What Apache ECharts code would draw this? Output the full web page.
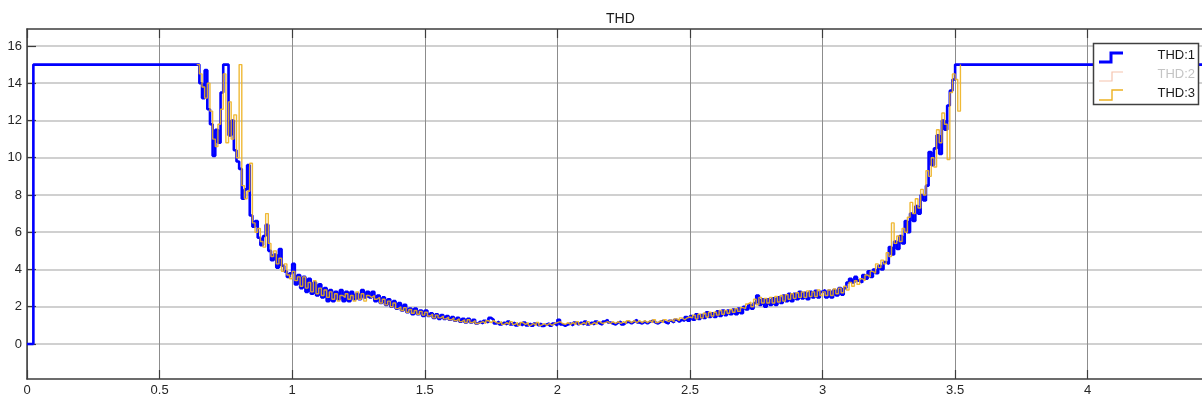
<!DOCTYPE html>
<html>
<head>
<meta charset="utf-8">
<script src="https://cdn.jsdelivr.net/npm/echarts@6/dist/echarts.min.js"></script>
<style>
html,body{margin:0;padding:0;background:#fff;}
#chart{width:1202px;height:401px;}
</style>
</head>
<body>
<div id="chart"></div>
<script>
// ---- data ----
const seriesNames = ['THD:1', 'THD:2', 'THD:3'];
const xTicks = [0, 0.5, 1, 1.5, 2, 2.5, 3, 3.5, 4];
const yTicks = [0, 2, 4, 6, 8, 10, 12, 14, 16];
const xMin = 0, xMax = 4.431, yMin = -1.88, yMax = 16.91;
// start-up: value 0 until the jump, then saturated at 15
const startPoints = [[0, 0], [0.024, 15]];
const endTime = 4.431;
const endValue = 15;
// sampled section: t = 0.64 ... 3.52, sample period 0.01 s
const sampleStart = 0.64;
const samplePeriod = 0.01;
const thd1 = [
  15,14.0,13.2,14.7,12.6,11.8,
  10.1,11.5,10.8,13.5,15,15,11.2,12.0,10.4,9.8,
  9.4,7.8,8.3,9.6,6.9,6.3,6.6,5.7,5.3,5.8,
  6.4,5.0,4.5,4.8,4.1,5.1,4.2,3.9,3.6,3.8,
  4.3,3.2,3.7,3.0,3.6,2.8,3.5,2.7,3.3,2.6,
  3.2,2.5,3.0,2.3,2.9,2.3,2.8,2.4,2.9,2.3,
  2.8,2.3,2.8,2.4,2.7,2.4,2.9,2.5,2.8,2.5,
  2.8,2.3,2.6,2.2,2.5,2.1,2.4,2.0,2.3,1.9,
  2.2,1.8,2.1,1.7,1.9,1.6,1.9,1.6,1.8,1.5,
  1.8,1.5,1.65,1.4,1.6,1.35,1.55,1.35,1.5,1.3,
  1.45,1.25,1.4,1.2,1.35,1.15,1.35,1.15,1.3,1.1,
  1.2,1.1,1.25,1.15,1.4,1.3,1.1,1.2,1.05,1.15,
  1.05,1.2,1.05,1.15,1.0,1.1,1.0,1.15,1.0,1.1,
  0.98,1.1,1.0,1.1,0.97,1.05,1.1,0.98,1.1,1.0,
  1.3,1.05,0.98,1.05,1.1,1.0,1.15,1.05,1.15,1.05,
  1.2,1.05,1.15,1.05,1.2,1.1,1.05,1.2,1.3,1.15,
  1.1,1.05,1.15,1.2,1.05,1.15,1.2,1.1,1.2,1.3,
  1.15,1.1,1.2,1.1,1.2,1.25,1.15,1.1,1.2,1.25,
  1.15,1.1,1.25,1.15,1.3,1.2,1.3,1.25,1.45,1.25,
  1.5,1.3,1.6,1.35,1.55,1.4,1.7,1.45,1.65,1.45,
  1.75,1.5,1.8,1.55,1.8,1.6,1.85,1.6,1.9,1.65,
  2.0,1.85,2.1,1.9,2.2,2.6,2.1,2.4,2.0,2.4,
  2.1,2.45,2.1,2.5,2.2,2.6,2.3,2.7,2.3,2.7,
  2.4,2.8,2.45,2.75,2.4,2.8,2.5,2.85,2.5,2.8,
  2.9,2.5,2.85,2.5,2.9,2.6,3.0,2.65,3.0,3.3,
  3.5,3.3,3.6,3.4,3.3,3.7,3.5,3.9,3.6,4.0,
  3.8,4.2,4.0,4.4,4.3,5.2,4.8,5.5,5.1,5.8,
  5.4,6.6,6.0,7.0,6.6,7.4,7.0,8.0,7.7,8.5,
  10.3,9.6,10.5,11.2,10.2,12.0,11.5,12.8,13.6,14.2,
  15,15,15
];
// THD:2 is drawn underneath THD:1 and is hidden by it; same readings used
const thd2 = thd1;
const thd3 = [
  15,14.5,13.8,13.2,14.0,12.5,
  11.0,10.6,11.8,12.6,14.5,10.8,13.0,11.0,12.3,10.0,
  15.0,8.5,7.8,8.2,9.7,6.5,6.0,6.2,5.5,5.2,
  7.0,5.4,4.7,5.0,4.3,4.6,3.9,4.3,3.7,3.5,
  3.9,3.4,3.6,3.1,3.6,3.0,3.3,2.8,3.4,2.7,
  3.0,2.6,2.9,2.5,2.8,2.4,2.7,2.3,2.6,2.5,
  2.7,2.4,2.6,2.3,2.8,2.4,2.7,2.3,2.6,2.5,
  2.6,2.4,2.5,2.2,2.4,2.1,2.3,2.0,2.2,1.9,
  2.0,1.8,1.95,1.7,1.85,1.65,1.8,1.6,1.75,1.55,
  1.7,1.5,1.6,1.4,1.55,1.4,1.5,1.35,1.45,1.3,
  1.4,1.25,1.35,1.2,1.3,1.15,1.3,1.15,1.25,1.1,
  1.15,1.2,1.1,1.25,1.15,1.25,1.15,1.1,1.2,1.05,
  1.15,1.05,1.2,1.05,1.15,1.0,1.15,1.05,1.15,1.0,
  1.1,1.0,1.15,1.0,1.1,1.0,1.1,1.0,1.1,1.15,
  1.2,1.1,1.05,1.15,1.05,1.15,1.05,1.2,1.05,1.15,
  1.05,1.2,1.05,1.15,1.05,1.2,1.1,1.15,1.2,1.1,
  1.2,1.1,1.2,1.1,1.2,1.1,1.25,1.15,1.25,1.15,
  1.25,1.15,1.25,1.15,1.25,1.15,1.3,1.15,1.25,1.15,
  1.3,1.2,1.3,1.2,1.35,1.25,1.4,1.3,1.4,1.45,
  1.4,1.55,1.35,1.6,1.4,1.65,1.45,1.7,1.5,1.7,
  1.55,1.8,1.6,1.8,1.65,1.85,1.7,1.9,1.75,1.95,
  1.9,2.15,2.25,2.0,2.4,2.1,2.5,2.2,2.45,2.2,
  2.5,2.2,2.55,2.25,2.6,2.3,2.65,2.4,2.7,2.45,
  2.75,2.5,2.8,2.5,2.85,2.55,2.8,2.55,2.9,2.6,
  2.8,2.6,2.9,2.6,2.95,2.7,3.0,2.75,3.1,2.9,
  3.3,3.1,3.4,3.2,3.5,3.4,3.7,3.6,3.9,3.8,
  4.3,4.1,4.5,4.3,4.9,4.7,6.5,5.4,5.8,5.5,
  6.2,6.0,6.8,7.6,7.0,7.8,7.3,8.3,8.0,9.3,
  9.0,10.0,9.5,11.5,10.8,12.4,11.8,9.9,13.5,14.5,
  14.2,12.5,15
];

// ---- build [t, value] pairs ----
function sampled(values) {
  return values.map((v, i) => [+(sampleStart + i * samplePeriod).toFixed(4), v]);
}
const data1 = startPoints.concat(sampled(thd1), [[endTime, endValue]]);
const data2 = startPoints.concat(sampled(thd2), [[endTime, endValue]]);
const data3 = sampled(thd3);

const colors = ['#0000ff', '#f5c3ae', '#edb120'];
const axisColor = '#3c3c3c';
const fontFam = 'Liberation Sans, Arial, sans-serif';
const labelStyle = { color: '#262626', fontSize: 13, fontFamily: fontFam };

const chart = echarts.init(document.getElementById('chart'), null, { renderer: 'canvas' });
chart.setOption({
  animation: false,
  backgroundColor: '#ffffff',
  title: {
    text: 'THD', left: 601, top: 7,
    textStyle: { fontSize: 14, fontWeight: 'normal', color: '#1a1a1a', fontFamily: fontFam }
  },
  grid: { left: 27, right: -1, top: 29, bottom: 22, containLabel: false },
  xAxis: [{
    type: 'value', min: xMin, max: xMax, position: 'bottom',
    axisLine: { show: true, onZero: false, lineStyle: { color: axisColor, width: 1.5 } },
    axisTick: { show: true, inside: true, length: 9, customValues: xTicks, lineStyle: { color: axisColor, width: 1.2 } },
    axisLabel: { customValues: xTicks, margin: 5, formatter: v => String(v), ...labelStyle },
    splitLine: { show: true, lineStyle: { color: '#8c8c8c', width: 1 } }
  }, {
    type: 'value', min: xMin, max: xMax, position: 'top',
    axisLine: { show: true, onZero: false, lineStyle: { color: axisColor, width: 1.5 } },
    axisTick: { show: true, inside: true, length: 9, customValues: xTicks, lineStyle: { color: axisColor, width: 1.2 } },
    axisLabel: { show: false },
    splitLine: { show: false }
  }],
  yAxis: [{
    type: 'value', min: yMin, max: yMax, position: 'left',
    axisLine: { show: true, onZero: false, lineStyle: { color: axisColor, width: 1.5 } },
    axisTick: { show: true, inside: true, length: 9, customValues: yTicks, lineStyle: { color: axisColor, width: 1.2 } },
    axisLabel: { customValues: yTicks, margin: 5, ...labelStyle },
    splitLine: { show: true, lineStyle: { color: '#c0c0c0', width: 1.5 } }
  }],
  series: [
    { name: seriesNames[1], type: 'line', step: 'end', showSymbol: false, data: data2,
      lineStyle: { color: colors[1], width: 1.5 }, itemStyle: { color: colors[1] }, z: 2 },
    { name: seriesNames[0], type: 'line', step: 'end', showSymbol: false, data: data1,
      lineStyle: { color: colors[0], width: 2.6 }, itemStyle: { color: colors[0] }, z: 3 },
    { name: seriesNames[2], type: 'line', step: 'end', showSymbol: false, data: data3,
      lineStyle: { color: colors[2], width: 1.4, opacity: 0.9 }, itemStyle: { color: colors[2] }, z: 4 }
  ],
  graphic: [
    { type: 'rect', z: 100, zlevel: 0, shape: { x: 1093.5, y: 43.5, width: 105, height: 61 },
      style: { fill: '#ffffff', stroke: '#404040', lineWidth: 1.5 } },
    { type: 'polyline', z: 101, shape: { points: [[1099, 62], [1111, 62], [1111, 53], [1123, 53]] },
      style: { stroke: colors[0], lineWidth: 3, fill: null } },
    { type: 'polyline', z: 101, shape: { points: [[1099, 81], [1112, 81], [1112, 72], [1123, 72]] },
      style: { stroke: colors[1], lineWidth: 1.2, fill: null } },
    { type: 'polyline', z: 101, shape: { points: [[1099, 100], [1112, 100], [1112, 90], [1123, 90]] },
      style: { stroke: colors[2], lineWidth: 1.4, fill: null } },
    { type: 'text', z: 101, x: 1195, y: 55, style: { text: seriesNames[0], align: 'right', verticalAlign: 'middle', fill: '#1a1a1a', fontSize: 13, fontFamily: fontFam } },
    { type: 'text', z: 101, x: 1195, y: 74, style: { text: seriesNames[1], align: 'right', verticalAlign: 'middle', fill: '#c4c4c4', fontSize: 13, fontFamily: fontFam } },
    { type: 'text', z: 101, x: 1195, y: 93, style: { text: seriesNames[2], align: 'right', verticalAlign: 'middle', fill: '#1a1a1a', fontSize: 13, fontFamily: fontFam } }
  ]
});
</script>
</body>
</html>
